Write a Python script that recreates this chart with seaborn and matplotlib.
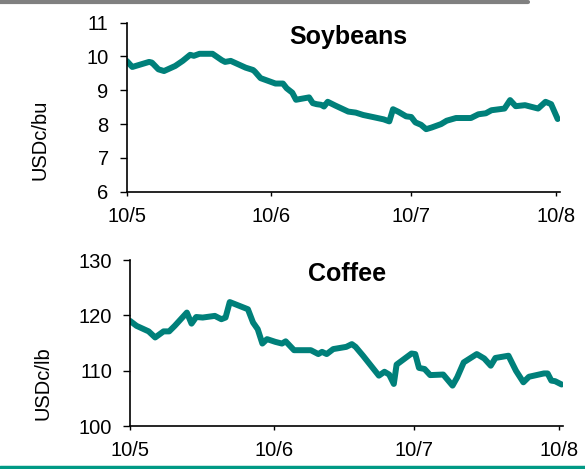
import matplotlib
matplotlib.use("Agg")
import matplotlib.pyplot as plt
import seaborn as sns
import pandas as pd
from matplotlib.lines import Line2D

# ---- data (x = days since 1 May 2010) ----
soy_days = [0, 1.2, 4.8, 5.4, 6.8, 8, 10.4, 12, 13.6, 14.4, 15.6, 18.4, 20.4, 21.1, 22.3,
            23.9, 25.5, 27.1, 27.5, 28.7, 30.3, 31.9, 33.5, 34.3, 35.5, 36.3, 37.5, 39.1,
            39.9, 40.7, 41.7, 42.3, 43.1, 44.7, 47.5, 49.1, 50.7, 53.1, 55.1, 56.3, 57.1,
            58.3, 59.9, 61.0, 61.9, 63.1, 64.2, 65.4, 67.4, 68.6, 70.6, 73.8, 75.4, 77.0,
            78.2, 81.0, 82.2, 83.4, 85.4, 88.2, 89.8, 91.0, 92.4]
soy_vals = [9.87, 9.69, 9.84, 9.82, 9.62, 9.57, 9.72, 9.87, 10.05, 10.02, 10.08, 10.08, 9.89,
            9.84, 9.87, 9.77, 9.67, 9.60, 9.55, 9.36, 9.28, 9.20, 9.20, 9.06, 8.93, 8.72,
            8.75, 8.79, 8.62, 8.59, 8.57, 8.52, 8.66, 8.55, 8.37, 8.34, 8.27, 8.20, 8.14,
            8.08, 8.44, 8.36, 8.23, 8.21, 8.05, 7.98, 7.85, 7.90, 8.00, 8.10, 8.18, 8.18,
            8.29, 8.32, 8.41, 8.46, 8.71, 8.53, 8.56, 8.46, 8.66, 8.59, 8.15]

coffee_days = [0, 1.4, 4, 5.4, 7.2, 8.4, 9.6, 12.2, 13.2, 14.2, 15.6, 18.2, 19.6, 20.5, 21.4,
               23.2, 25.3, 26.4, 27.4, 28.4, 29.4, 31.2, 32.6, 33.4, 35.2, 38.8, 40.4, 41.2,
               42.2, 43.6, 46.4, 47.6, 48.4, 50.0, 53.4, 54.6, 55.6, 56.6, 57.2, 58.8, 60.4,
               61.2, 62.0, 63.2, 64.4, 67.2, 69.2, 70.2, 71.6, 74.4, 76.0, 77.4, 78.4, 81.2,
               82.8, 84.4, 85.6, 88.8, 89.6, 90.4, 91.2, 92.6]
coffee_vals = [119.0, 118.1, 117.1, 116.0, 117.1, 117.1, 118.1, 120.5, 118.5, 119.7, 119.6,
               119.9, 119.3, 119.6, 122.4, 121.8, 121.1, 118.7, 117.5, 114.9, 115.7, 115.2,
               114.9, 115.3, 113.7, 113.7, 113.0, 113.4, 113.0, 113.9, 114.3, 114.8, 114.3,
               112.7, 109.1, 109.8, 109.3, 107.6, 111.1, 112.1, 113.1, 113.0, 110.5, 110.3,
               109.2, 109.3, 107.3, 108.8, 111.5, 113.0, 112.2, 110.9, 112.3, 112.7, 110.0,
               107.9, 108.9, 109.5, 109.5, 108.2, 108.1, 107.5]

tick_days = [0, 31, 61, 92]
tick_labels = ["10/5", "10/6", "10/7", "10/8"]

soy_ticks = [6, 7, 8, 9, 10, 11]
coffee_ticks = [100, 110, 120, 130]

LINE = "#00807A"
FONT = ["Liberation Sans", "DejaVu Sans"]

sns.set_theme(style="white")
plt.rcParams["font.family"] = FONT
plt.rcParams["text.color"] = "black"
plt.rcParams["xtick.color"] = "black"
plt.rcParams["ytick.color"] = "black"

fig = plt.figure(figsize=(5.85, 4.69), dpi=100)
W, H = 585.0, 469.0

def add_ax(left, right, top, bottom):
    return fig.add_axes([left / W, 1 - bottom / H, (right - left) / W, (bottom - top) / H])

ax1 = add_ax(126.7, 560, 22.7, 191.7)
ax2 = add_ax(130, 563, 260, 426)

soy_df = pd.DataFrame({"day": soy_days, "value": soy_vals})
cof_df = pd.DataFrame({"day": coffee_days, "value": coffee_vals})

sns.lineplot(data=soy_df, x="day", y="value", ax=ax1, color=LINE, linewidth=4.3,
             solid_joinstyle="round", solid_capstyle="round")
sns.lineplot(data=cof_df, x="day", y="value", ax=ax2, color=LINE, linewidth=4.3,
             solid_joinstyle="round", solid_capstyle="round")

for ax, yt, ylim in [(ax1, soy_ticks, (6, 11)), (ax2, coffee_ticks, (100, 130))]:
    ax.set_xlim(0, 92.9)
    ax.set_ylim(*ylim)
    ax.set_yticks(yt)
    ax.set_yticklabels([str(v) for v in yt])
    ax.set_xticks(tick_days)
    ax.set_xticklabels(tick_labels)
    ax.set_xlabel("")
    ax.set_ylabel("")
    for s in ["top", "right"]:
        ax.spines[s].set_visible(False)
    for s in ["left", "bottom"]:
        ax.spines[s].set_color("black")
        ax.spines[s].set_linewidth(1.2)
    ax.tick_params(axis="y", direction="out", length=5, width=1, color="black",
                   labelcolor="black", labelsize=14.5, pad=8, left=True)
    ax.tick_params(axis="x", direction="out", length=3, width=1, color="black",
                   labelcolor="black", labelsize=14.5, pad=8, bottom=True)
    ax.set_facecolor("none")
    ax.grid(False)

fig.text(348.5 / W, 1 - 37 / H, "Soybeans", ha="center", va="center",
         fontsize=18, fontweight="bold", color="black")
fig.text(347 / W, 1 - 274 / H, "Coffee", ha="center", va="center",
         fontsize=18, fontweight="bold", color="black")

fig.text(40 / W, 1 - 140 / H, "USDc/bu", rotation=90, ha="center", va="center",
         fontsize=14.5, color="black")
fig.text(43 / W, 1 - 383 / H, "USDc/lb", rotation=90, ha="center", va="center",
         fontsize=14.5, color="black")

# decorative rules
fig.add_artist(Line2D([0, 528 / W], [1 - 2 / H, 1 - 2 / H], transform=fig.transFigure,
                      color="#808080", linewidth=3))
fig.add_artist(Line2D([0, 1], [1 - 467 / H, 1 - 467 / H], transform=fig.transFigure,
                      color="#009A85", linewidth=2.5))

fig.savefig("out.png", dpi=100)
